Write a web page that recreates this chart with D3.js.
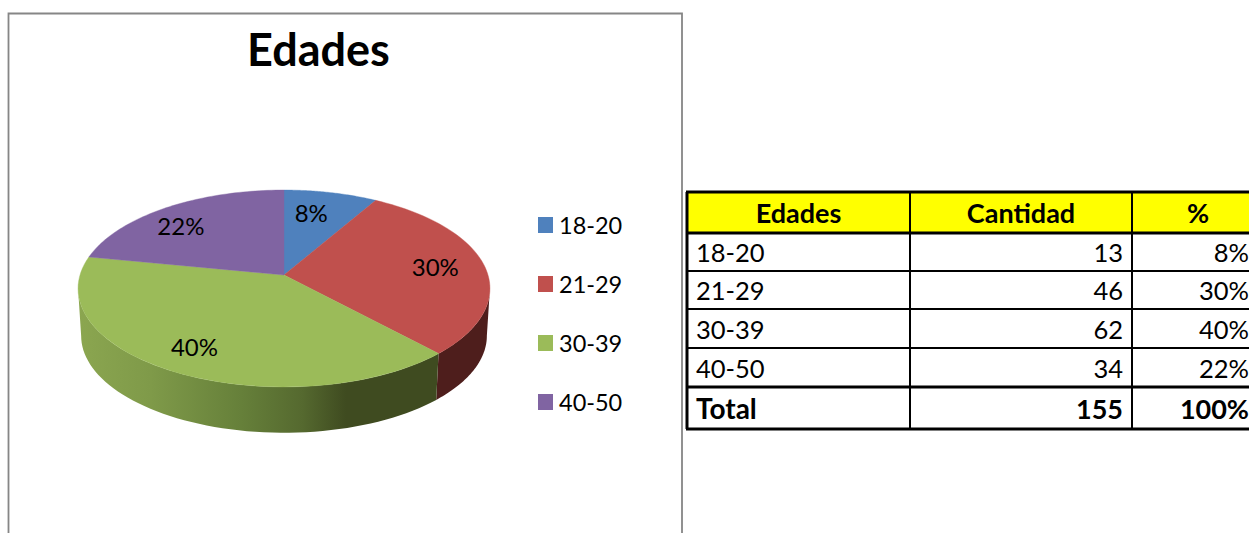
<!DOCTYPE html>
<html><head><meta charset="utf-8">
<script src="https://cdn.jsdelivr.net/npm/d3@7"></script>
<style>html,body{margin:0;padding:0;background:#fff;overflow:hidden}svg{display:block}text{font-family:Lato,Carlito,"Open Sans",sans-serif;fill:#000}</style>
</head><body><svg id="c" width="1249" height="533"></svg>
<script>
const title = "Edades";
const categories = ["18-20","21-29","30-39","40-50"];
const counts = [13,46,62,34];
const percents = ["8%","30%","40%","22%"];
const colors = ["#4f81bd","#c0504d","#9bbb59","#8064a2"];
const tableHead = ["Edades","Cantidad","%"];
const totalRow = ["Total","155","100%"];

const svg = d3.select("#c");
const W=1249,H=533;

// chart frame (open at the bottom, cropped)
svg.append("path").attr("d",`M8.5,${H}V13.5H682V${H}`).attr("fill","none").attr("stroke","#868686").attr("stroke-width",1.8);
svg.append("text").attr("x",318.5).attr("y",66).attr("text-anchor","middle").attr("font-size",45).attr("font-weight",700).text(title);

// perspective pie: circle mapped to screen through a homography
const cx=284,cy=275,sx=204,sy=96.6,k=0.137,depth=47.5,bottomScale=0.985;
const project=(t,r=1,dz=0,s=1)=>{
  const w=1+k*r*Math.cos(t);
  return [cx+s*sx*r*Math.sin(t)/w, cy+dz-s*sy*r*Math.cos(t)/w];
};
const pie=d3.pie().sort(null).value(d=>d)(counts);
const line=d3.line();
const sample=(a,b,f)=>d3.range(0,61).map(i=>f(a+(b-a)*i/60));

// side wall (only the visible front part)
const tanR=Math.acos(-k), tanL=2*Math.PI-tanR;
const defs=svg.append("defs");
const grad=defs.append("linearGradient").attr("id","wall").attr("gradientUnits","userSpaceOnUse")
  .attr("x1",78).attr("x2",440).attr("y1",0).attr("y2",0);
[[0,"#8ba650"],[0.2,"#7f9a49"],[0.45,"#66803a"],[0.62,"#55692f"],[0.74,"#3f4b20"],[1,"#3f4b20"]]
  .forEach(([o,c])=>grad.append("stop").attr("offset",o).attr("stop-color",c));
const wallFill=["none","#4e1e1c","url(#wall)","none"];
pie.forEach((p,i)=>{
  const a=Math.max(p.startAngle,tanR), b=Math.min(p.endAngle,tanL);
  if(b<=a||wallFill[i]==="none")return;
  const top=sample(a,b,t=>project(t));
  const bot=sample(b,a,t=>project(t,1,depth,bottomScale));
  svg.append("path").attr("d",line(top.concat(bot))+"Z").attr("fill",wallFill[i]);
});

// top face
pie.forEach((p,i)=>{
  const pts=[[cx,cy]].concat(sample(p.startAngle,p.endAngle,t=>project(t)));
  svg.append("path").attr("d",line(pts)+"Z").attr("fill",colors[i]).attr("stroke",colors[i]).attr("stroke-width",0.4);
});

// data labels
const labelNudge=[[-9,2],[1,0],[-8,3],[-13,3]];
pie.forEach((p,i)=>{
  const [x,y]=project((p.startAngle+p.endAngle)/2,0.75);
  svg.append("text").attr("x",x+labelNudge[i][0]).attr("y",y+labelNudge[i][1]+8.5)
    .attr("text-anchor","middle").attr("font-size",24).text(percents[i]);
});

// legend
const legendY=d3.scalePoint().domain(categories).range([225,402]);
categories.forEach((c,i)=>{
  const y=legendY(c);
  svg.append("rect").attr("x",538).attr("y",y-8).attr("width",15).attr("height",16).attr("fill",colors[i]);
  svg.append("text").attr("x",559).attr("y",y+8.5).attr("font-size",23.5).text(c);
});

// table
const colX=[687,910,1132,1264];
const rowY=[192,233,271,309,348,387,429];
const cellText=(txt,col,row,bold,align,size)=>{
  const yc=(rowY[row]+rowY[row+1])/2+(bold?10.5:10);
  const xp=align==="middle"?(colX[col]+colX[col+1])/2:align==="end"?(col===2?W:colX[col+1]-9):colX[col]+9;
  svg.append("text").attr("x",xp).attr("y",yc).attr("text-anchor",align)
    .attr("font-size",size).attr("font-weight",bold?700:400).text(txt);
};
svg.append("rect").attr("x",colX[0]).attr("y",rowY[0]).attr("width",W-colX[0]).attr("height",rowY[1]-rowY[0]).attr("fill","#ffff00");
tableHead.forEach((t,j)=>cellText(t,j,0,true,"middle",27));
categories.forEach((c,i)=>{
  cellText(c,0,i+1,false,"start",25.5);
  cellText(String(counts[i]),1,i+1,false,"end",25.5);
  cellText(percents[i],2,i+1,false,"end",25.5);
});
cellText(totalRow[0],0,5,true,"start",28);
cellText(totalRow[1],1,5,true,"end",27);
cellText(totalRow[2],2,5,true,"end",27);
const thick=new Set([0,1,5,6]);
rowY.forEach((y,i)=>svg.append("line").attr("x1",colX[0]-1).attr("x2",W).attr("y1",y).attr("y2",y)
  .attr("stroke","#000").attr("stroke-width",thick.has(i)?3:2));
colX.slice(0,3).forEach((x,i)=>svg.append("line").attr("x1",x).attr("x2",x).attr("y1",rowY[0]).attr("y2",rowY[6])
  .attr("stroke","#000").attr("stroke-width",i===0?3:2));
</script></body></html>
